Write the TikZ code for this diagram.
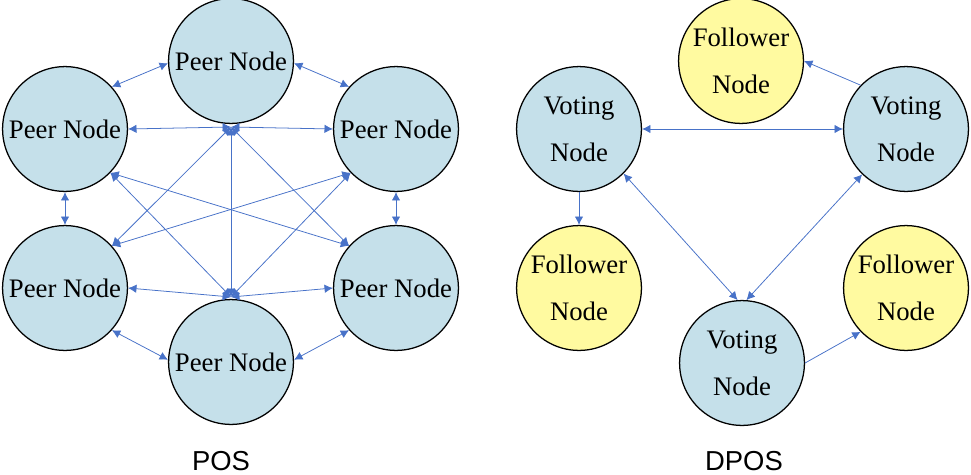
\documentclass[tikz,border=0pt]{standalone}
\usepackage{fontspec}
\setmainfont{Liberation Serif}
\newfontfamily\titlefont{Liberation Sans}
\usetikzlibrary{arrows.meta}
\definecolor{peerblue}{RGB}{197,224,234}
\definecolor{followyellow}{RGB}{255,250,160}
\definecolor{linkblue}{RGB}{72,114,200}
\tikzset{
  nd/.style={
    circle, draw=black, line width=0.9pt, fill=#1,
    minimum size=3.12cm, inner sep=0pt, align=center,
    font=\fontsize{19}{33.4}\selectfont},
  link/.style={draw=linkblue, line width=0.55pt},
  lbl/.style={font=\titlefont\fontsize{19.5}{22}\selectfont,
              anchor=base, inner sep=0pt},
}

\begin{document}
\begin{tikzpicture}[x=0.025cm, y=-0.025cm,
                    >={Latex[length=6pt,width=6pt]}]
\useasboundingbox (0,0) rectangle (971,474);

%% == POS (left) ===============================================================
\node[nd=peerblue] (top) at (231, 61) {Peer Node};
\node[nd=peerblue] (ul)  at ( 65,129) {Peer Node};
\node[nd=peerblue] (ur)  at (396,129) {Peer Node};
\node[nd=peerblue] (ll)  at ( 65,288) {Peer Node};
\node[nd=peerblue] (lr)  at (396,288) {Peer Node};
\node[nd=peerblue] (bot) at (231,362) {Peer Node};

% hubs under the top node and over the bottom node
\coordinate (hubT) at (231,127);
\coordinate (hubB) at (231,297);

% outer ring
\draw[link,<->] (ul.42)    -- (top.182);
\draw[link,<->] (top.358)  -- (ur.138);
\draw[link,<->] (ul.south) -- (ll.north);
\draw[link,<->] (ur.south) -- (lr.north);
\draw[link,<->] (ll.-42)   -- (bot.178);
\draw[link,<->] (bot.2)    -- (lr.222);

% from the top hub
\draw[link,<->] (hubT) -- (ul.east);
\draw[link,<->] (hubT) -- (ur.west);
\draw[link,<->] (hubT) -- (ll.42);
\draw[link,<->] (hubT) -- (lr.138);
\draw[link,<->] (hubT) -- (hubB);

% from the bottom hub
\draw[link,<->] (hubB) -- (ll.east);
\draw[link,<->] (hubB) -- (lr.west);
\draw[link,<->] (hubB) -- (ul.-44);
\draw[link,<->] (hubB) -- (ur.224);

% crossing links
\draw[link,<->] (ul.-44) -- (lr.138);
\draw[link,<->] (ll.42)  -- (ur.224);

\node[lbl] (posTitle) at (221,470) {POS};

%% == DPOS (right) =============================================================
\node[nd=followyellow] (tf) at (741, 61) {Follower\\Node};
\node[nd=peerblue]     (lv) at (579,129) {Voting\\Node};
\node[nd=peerblue]     (rv) at (906,129) {Voting\\Node};
\node[nd=followyellow] (lf) at (579,288) {Follower\\Node};
\node[nd=followyellow] (rf) at (906,288) {Follower\\Node};
\node[nd=peerblue]     (bv) at (742,363) {Voting\\Node};

\draw[link,->]  (rv.136)   -- (tf.east);
\draw[link,<->] (lv.east)  -- (rv.west);
\draw[link,->]  (lv.south) -- (lf.north);
\draw[link,<->] (lv.-45)   -- (bv.94);
\draw[link,<->] (rv.226)   -- (bv.86);
\draw[link,->]  (bv.east)  -- (rf.224);

\node[lbl] (dposTitle) at (744,470) {DPOS};
\end{tikzpicture}
\end{document}
